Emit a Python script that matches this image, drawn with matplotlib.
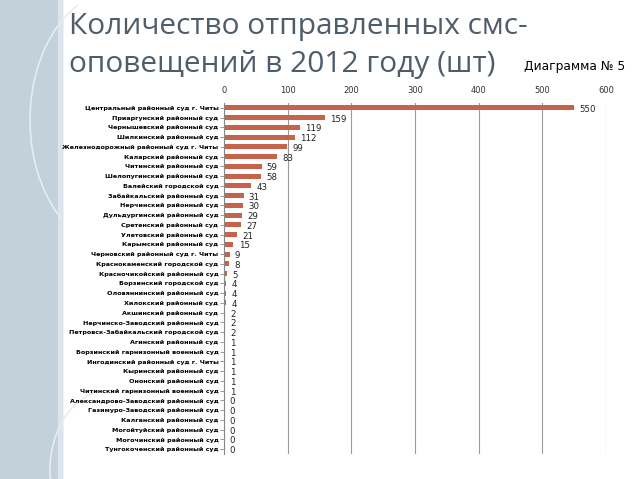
import matplotlib
matplotlib.use('Agg')
import matplotlib.pyplot as plt
from matplotlib.patches import Rectangle, Arc

courts = [
    'Центральный районный суд г. Читы',
    'Приаргунский районный суд',
    'Чернышевский районный суд',
    'Шилкинский районный суд',
    'Железнодорожный районный суд г. Читы',
    'Каларский районный суд',
    'Читинский районный суд',
    'Шелопугинский районный суд',
    'Балейский городской суд',
    'Забайкальский районный суд',
    'Нерчинский районный суд',
    'Дульдургинский районный суд',
    'Сретенский районный суд',
    'Улетовский районный суд',
    'Карымский районный суд',
    'Черновский районный суд г. Читы',
    'Краснокаменский городской суд',
    'Красночикойский районный суд',
    'Борзинский городской суд',
    'Оловяннинский районный суд',
    'Хилокский районный суд',
    'Акшинский районный суд',
    'Нерчинско-Заводский районный суд',
    'Петровск-Забайкальский городской суд',
    'Агинский районный суд',
    'Борзинский гарнизонный военный суд',
    'Ингодинский районный суд г. Читы',
    'Кыринский районный суд',
    'Ононский районный суд',
    'Читинский гарнизонный военный суд',
    'Александрово-Заводский районный суд',
    'Газимуро-Заводский районный суд',
    'Калганский районный суд',
    'Могойтуйский районный суд',
    'Могочинский районный суд',
    'Тунгокоченский районный суд',
]
sms_count = [550, 159, 119, 112, 99, 83, 59, 58, 43, 31, 30, 29, 27, 21, 15, 9, 8,
             5, 4, 4, 4, 2, 2, 2, 1, 1, 1, 1, 1, 1, 0, 0, 0, 0, 0, 0]
x_ticks = [0, 100, 200, 300, 400, 500, 600]

fig = plt.figure(figsize=(6.38, 4.79), dpi=100)

# decorative strip on the left of the slide
bg = fig.add_axes([0, 0, 1, 1])
bg.set_xlim(0, 638)
bg.set_ylim(479, 0)
bg.axis('off')
bg.add_patch(Rectangle((0, 0), 62, 479, color='#c3d1db'))
bg.add_patch(Rectangle((58, 0), 4, 479, color='#dce5ec'))
bg.add_patch(Arc((120, 120), 180, 260, theta1=120, theta2=250, color='#e6edf2', lw=1.2))
bg.add_patch(Arc((110, 470), 120, 160, theta1=100, theta2=260, color='#e6edf2', lw=1.2))

fig.text(0.108, 0.975, 'Количество отправленных смс-', fontsize=21.5, color='#4f5d6b',
         family='Open Sans', va='top')
fig.text(0.108, 0.895, 'оповещений в 2012 году (шт)', fontsize=21.5, color='#4f5d6b',
         family='Open Sans', va='top')
fig.text(0.822, 0.862, 'Диаграмма № 5', fontsize=8.8, color='black', va='center')

ax = fig.add_axes([0.351, 0.052, 0.599, 0.733])
y = range(len(courts))
ax.barh(y, sms_count, height=0.5, color='#c5634b')
ax.set_ylim(len(courts) - 0.5, -0.5)
ax.set_xlim(0, 600)
ax.set_yticks(list(y))
ax.set_yticklabels(courts, fontsize=4.6, fontweight='bold')
ax.xaxis.tick_top()
ax.set_xticks(x_ticks)
ax.tick_params(axis='x', labelsize=6, length=0, pad=6, colors='#333333')
ax.tick_params(axis='y', length=3, width=0.6, pad=1, color='#888888')
ax.grid(axis='x', color='#9a9a9a', lw=0.8)
ax.set_axisbelow(True)
for s in ['top', 'right', 'bottom']:
    ax.spines[s].set_visible(False)
ax.spines['left'].set_color('#888888')
ax.spines['left'].set_linewidth(0.8)

for i, v in enumerate(sms_count):
    ax.text(v + 8, i + 0.15, str(v), fontsize=6.2, va='center', color='#222222')

fig.savefig('out.png', dpi=100)
